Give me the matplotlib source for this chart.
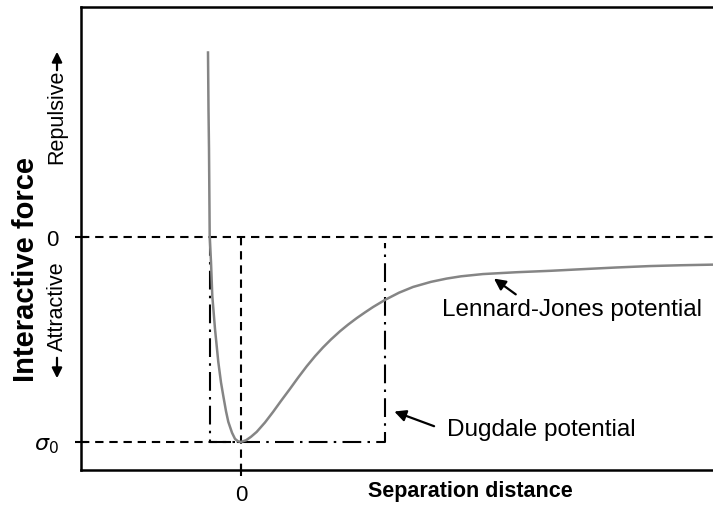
import numpy as np
import matplotlib
matplotlib.use("Agg")
import matplotlib.pyplot as plt
from matplotlib.patches import FancyArrowPatch

plt.rcParams['font.family'] = ['Liberation Sans', 'DejaVu Sans']

# Lennard-Jones force curve (x: separation, y: force / sigma0)
lj_x = [-0.33, -0.325, -0.32, -0.313, -0.30, -0.287, -0.26, -0.227, -0.2, -0.177,
        -0.15, -0.127, -0.09, -0.06, -0.03, 0.0, 0.05, 0.1, 0.157, 0.24, 0.32,
        0.40, 0.49, 0.57, 0.657, 0.74, 0.82, 0.90, 0.99, 1.07, 1.157, 1.24,
        1.32, 1.44, 1.58, 1.72, 1.9, 2.057, 2.2, 2.42, 2.757, 3.1, 3.42,
        3.75, 4.09, 4.4, 4.72]
lj_y = [0.90, 0.62, 0.43, 0.0, -0.122, -0.288, -0.449, -0.61, -0.71, -0.776,
        -0.85, -0.902, -0.955, -0.985, -0.997, -1.0, -0.992, -0.975, -0.951, -0.905, -0.854,
        -0.80, -0.741, -0.687, -0.631, -0.582, -0.539, -0.500, -0.460, -0.428, -0.396, -0.368,
        -0.342, -0.307, -0.272, -0.244, -0.219, -0.203, -0.192, -0.181, -0.172, -0.165, -0.157,
        -0.149, -0.142, -0.138, -0.135]

# Dugdale (rectangular) potential
dug_x = [-0.31, -0.31, 1.44, 1.44]
dug_y = [0.0, -1.0, -1.0, -0.03]

x_ticks = [0]
x_tick_labels = ['0']
y_ticks = [0, -1]
y_tick_labels = ['0', r'$\sigma_0$']

fig = plt.figure(figsize=(7.13, 5.06), dpi=100)
ax = fig.add_axes([81 / 713, 35 / 506, 1 - 81 / 713, 463 / 506])
ax.set_xlim(-1.6, 4.72)
ax.set_ylim(-1.137, 1.122)

ax.plot(lj_x, lj_y, color='#858585', lw=1.8, zorder=3, solid_joinstyle='round')
ax.plot(dug_x, dug_y, color='black', lw=1.5, linestyle=(0, (9, 3, 1.2, 3)), zorder=2)

dash = (0, (4, 2.8))
ax.axhline(0, color='black', lw=1.5, linestyle=dash, zorder=1)
ax.plot([-1.6, 0], [-1, -1], color='black', lw=1.5, linestyle=dash, zorder=1)
ax.plot([0, 0], [0, -1.137], color='black', lw=1.5, linestyle=dash, zorder=1)

ax.spines['right'].set_visible(False)
for s in ['left', 'top', 'bottom']:
    ax.spines[s].set_linewidth(1.8)

ax.set_xticks(x_ticks, x_tick_labels, fontsize=16)
ax.set_yticks(y_ticks, y_tick_labels, fontsize=16)
ax.tick_params(axis='both', direction='inout', length=8, width=1.5)
ax.tick_params(axis='y', pad=12)
ax.tick_params(axis='x', pad=6)

fig.text(470 / 713, 1 - 492 / 506, 'Separation distance', fontsize=15.5,
         fontweight='bold', ha='center', va='center')

fig.text(26 / 713, 1 - 270 / 506, 'Interactive force', rotation=90, fontsize=21,
         fontweight='bold', ha='center', va='center')
fig.text(57 / 713, 1 - 117 / 506, 'Repulsive', rotation=90, fontsize=15.5,
         ha='center', va='center')
fig.text(57 / 713, 1 - 306 / 506, 'Attractive', rotation=90, fontsize=15.5,
         ha='center', va='center')
arrow_kw = dict(arrowstyle='-|>', color='black', lw=1.6, mutation_scale=15)
fig.add_artist(FancyArrowPatch((57 / 713, 1 - 74 / 506), (57 / 713, 1 - 50 / 506),
                               transform=fig.transFigure, **arrow_kw))
fig.add_artist(FancyArrowPatch((57 / 713, 1 - 356 / 506), (57 / 713, 1 - 382 / 506),
                               transform=fig.transFigure, **arrow_kw))

ax.annotate('', xy=(2.507, -0.195), xytext=(2.77, -0.288),
            arrowprops=dict(arrowstyle='-|>', color='black', lw=1.6, mutation_scale=17))
ax.text(2.007, -0.351, 'Lennard-Jones potential', fontsize=17.5, ha='left', va='center')
ax.annotate('', xy=(1.507, -0.847), xytext=(1.957, -0.928),
            arrowprops=dict(arrowstyle='-|>', color='black', lw=1.6, mutation_scale=17))
ax.text(2.057, -0.937, 'Dugdale potential', fontsize=17.5, ha='left', va='center')

fig.savefig('out.png', dpi=100)
